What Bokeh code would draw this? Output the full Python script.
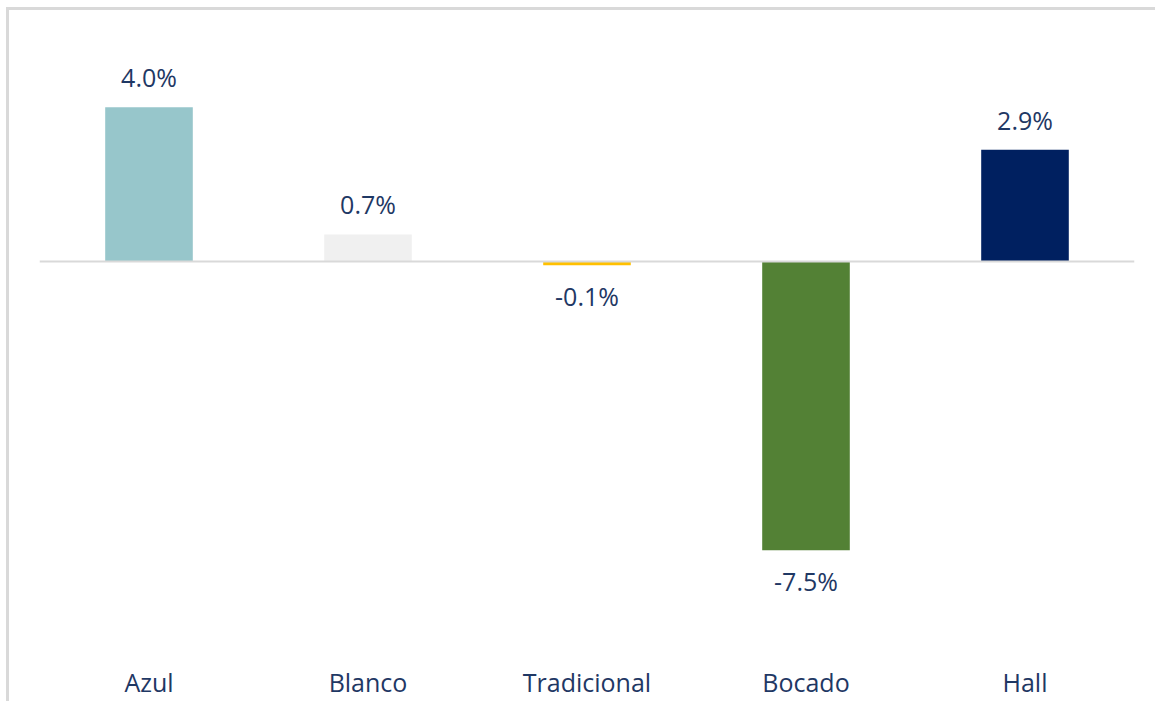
from bokeh.plotting import figure
from bokeh.models import ColumnDataSource, Span, FactorRange, Range1d
from bokeh.core.properties import value
from bokeh.embed import file_html
from bokeh.resources import INLINE

categories = ["Azul", "Blanco", "Tradicional", "Bocado", "Hall"]
values = [4.0, 0.7, -0.1, -7.5, 2.9]
colors = ["#97c6cb", "#f0f0f0", "#ffc000", "#538135", "#002060"]

FONT = "Open Sans"
TEXT_COLOR = "#1f3864"

labels = [f"{v:.1f}%" for v in values]
pos = [v >= 0 for v in values]
src_pos = ColumnDataSource(dict(x=[c for c, p in zip(categories, pos) if p],
                                y=[v for v, p in zip(values, pos) if p],
                                t=[l for l, p in zip(labels, pos) if p]))
src_neg = ColumnDataSource(dict(x=[c for c, p in zip(categories, pos) if not p],
                                y=[v for v, p in zip(values, pos) if not p],
                                t=[l for l, p in zip(labels, pos) if not p]))
src = ColumnDataSource(dict(x=categories, top=values, color=colors))

p = figure(x_range=FactorRange(*categories, range_padding=0),
           y_range=Range1d(-10.13, 5.97),
           width=1149, height=694, output_backend="svg", toolbar_location=None,
           min_border_left=30, min_border_right=24, min_border_top=21, min_border_bottom=53)
p.styles = {"border-left": "3px solid #d9d9d9", "border-top": "3px solid #d9d9d9",
            "margin-left": "6px", "margin-top": "7px"}

p.vbar(x="x", top="top", bottom=0, width=0.4, color="color", line_color=None, source=src)

p.add_layout(Span(location=0, dimension="width", line_color="#d9d9d9", line_width=2))

p.text(x="x", y="y", text="t", source=src_pos, text_align="center", text_baseline="middle",
       y_offset=-30, text_font=value(FONT), text_font_size="25px", text_color=TEXT_COLOR)
p.text(x="x", y="y", text="t", source=src_neg, text_align="center", text_baseline="middle",
       y_offset=31, text_font=value(FONT), text_font_size="25px", text_color=TEXT_COLOR)

p.yaxis.visible = False
p.xgrid.grid_line_color = None
p.ygrid.grid_line_color = None
p.outline_line_color = None
p.xaxis.axis_line_color = None
p.xaxis.major_tick_line_color = None
p.xaxis.minor_tick_line_color = None
p.xaxis.major_label_standoff = 7
p.xaxis.major_label_text_font = FONT
p.xaxis.major_label_text_font_size = "25px"
p.xaxis.major_label_text_color = TEXT_COLOR
p.xaxis.major_label_text_font_style = "normal"

open("out.html", "w").write(file_html(p, INLINE))
